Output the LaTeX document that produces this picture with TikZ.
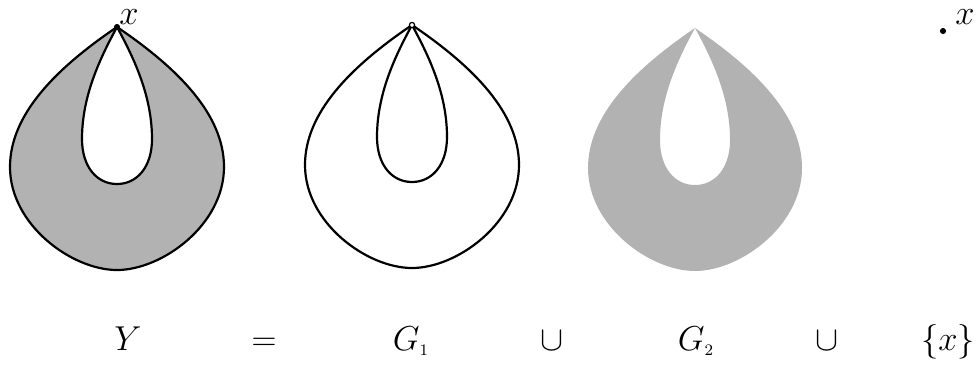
\documentclass[tikz,border=0pt]{standalone}
\usepackage{amsmath}
\begin{document}
\begin{tikzpicture}
[
	x=0.5pt,y=-0.5pt,
	closedpt/.style={circle,draw,fill,inner sep=0pt,minimum size=2.6pt},
	openpt/.style={circle,draw,fill=white,inner sep=0pt,minimum size=2.6pt,line width=0.6pt},
	outerdrop/.style={insert path={(0,0) .. controls (-62,42) and (-107,88) .. (-107,140)
		.. controls (-107,198) and (-45,243) .. (0,243)
		.. controls (45,243) and (107,198) .. (107,140)
		.. controls (107,88) and (62,42) .. (0,0)}},
	innerdrop/.style={insert path={(0,0) .. controls (-18,33) and (-35,70) .. (-35,112)
		.. controls (-35,140) and (-20,157) .. (0,157)
		.. controls (20,157) and (35,140) .. (35,112)
		.. controls (35,70) and (18,33) .. (0,0)}},
	lbl/.style={font=\fontsize{16.5}{19}\selectfont,inner sep=0pt},
	edge/.style={line width=1.1pt,line join=round}
]

	\useasboundingbox (0,0) rectangle (978,366);

	% Y
	\begin{scope}[shift={(117,27)}]
		\fill[black!30,even odd rule,outerdrop,innerdrop];
		\draw[edge,outerdrop];
		\draw[edge,innerdrop];
		\node[closedpt] at (0,0) (p1) {};
	\end{scope}
	\node[lbl] at (129,17) (x1) {$x$};

	% G_1
	\begin{scope}[shift={(412,25)}]
		\draw[edge,outerdrop];
		\draw[edge,innerdrop];
		\node[openpt] at (0,0) (p2) {};
	\end{scope}

	% G_2
	\begin{scope}[shift={(695,28)}]
		\fill[black!30,even odd rule,outerdrop,innerdrop];
	\end{scope}

	% {x}
	\node[closedpt] at (943,31) (p3) {};
	\node[lbl] at (965,17) (x3) {$x$};

	% bottom line
	\node[lbl,anchor=base] at (128,350) (ly) {$Y$};
	\node[lbl,anchor=base] at (264,350) (leq) {$=$};
	\node[lbl,anchor=base] at (411,350) (lg1) {$G_{\scriptscriptstyle 1}$};
	\node[lbl,anchor=base] at (552,350) (lu1) {$\cup$};
	\node[lbl,anchor=base] at (696,350) (lg2) {$G_{\scriptscriptstyle 2}$};
	\node[lbl,anchor=base] at (827,350) (lu2) {$\cup$};
	\node[lbl,anchor=base] at (948,350) (lx) {$\{x\}$};

\end{tikzpicture}
\end{document}
